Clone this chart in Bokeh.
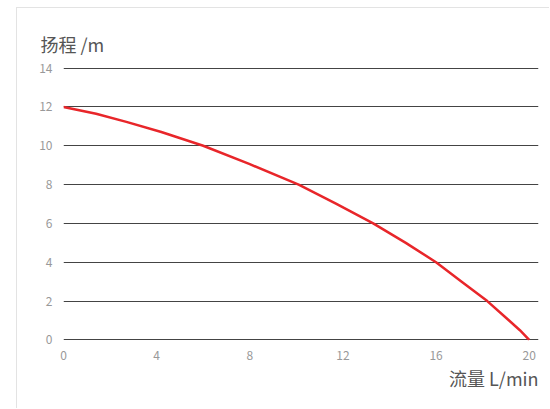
from bokeh.plotting import figure
from bokeh.models import Range1d, FixedTicker, Title
from bokeh.embed import file_html
from bokeh.resources import INLINE

flow = [0, 1.4, 2.7, 4.2, 6.0, 8.0, 10.1, 11.7, 13.3, 14.7, 16.0, 17.1, 18.2, 19.1, 19.6, 20]
head = [12, 11.65, 11.23, 10.71, 10.0, 9.05, 8.0, 7.02, 6.0, 5.0, 4.0, 3.0, 2.0, 1.04, 0.5, 0]
x_ticks = [0, 4, 8, 12, 16, 20]
y_ticks = [0, 2, 4, 6, 8, 10, 12, 14]
y_title = "扬程 /m"
x_title = "流量 L/min"

FONT = "Noto Sans CJK SC"

p = figure(width=533, height=401, output_backend="svg", toolbar_location=None,
           x_range=Range1d(0, 20.4), y_range=Range1d(-0.03, 14.03),
           min_border_left=46, min_border_right=12, min_border_top=59, min_border_bottom=69)
p.styles = {"margin-left": "16px", "margin-top": "7px",
            "border-left": "1px solid #e3e3e3", "border-top": "1px solid #e3e3e3"}
p.outline_line_color = None
p.background_fill_color = "white"
p.border_fill_color = "white"

p.xgrid.grid_line_color = None
p.ygrid.grid_line_color = "#444444"
p.ygrid.grid_line_width = 1
p.ygrid.ticker = FixedTicker(ticks=y_ticks)

for ax in (p.xaxis[0], p.yaxis[0]):
    ax.axis_line_color = None
    ax.major_tick_line_color = None
    ax.minor_tick_line_color = None
    ax.major_label_text_color = "#999999"
    ax.major_label_text_font = FONT
    ax.major_label_text_font_size = "12px"
p.xaxis.ticker = FixedTicker(ticks=x_ticks)
p.yaxis.ticker = FixedTicker(ticks=y_ticks)
p.xaxis.major_label_standoff = 4
p.yaxis.major_label_standoff = 5

p.line(flow, head, line_color="#e8262a", line_width=2.5)

p.title.text = y_title
p.title.align = "left"
p.title.offset = -23
p.title.text_font = FONT
p.title.text_font_size = "18px"
p.title.text_font_style = "normal"
p.title.text_color = "#555555"
p.title.standoff = 21

p.add_layout(Title(text=x_title, align="right", text_font=FONT, text_font_size="18px",
                   text_font_style="normal", text_color="#555555", standoff=0), "below")

open("out.html", "w").write(file_html(p, INLINE))
